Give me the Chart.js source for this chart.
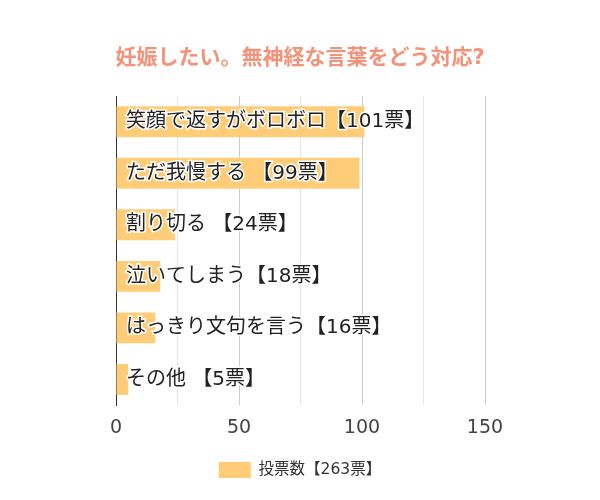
<!DOCTYPE html>
<html><head><meta charset="utf-8">
<script src="https://cdn.jsdelivr.net/npm/chart.js@4"></script>
<style>html,body{margin:0;padding:0;background:#fff}#wrap{width:600px;height:500px}</style>
</head><body><div id="wrap"><canvas id="c"></canvas></div>
<script>
const titleText = '妊娠したい。無神経な言葉をどう対応?';
const categories = ['笑顔で返すがボロボロ【101票】','ただ我慢する 【99票】','割り切る 【24票】','泣いてしまう【18票】','はっきり文句を言う【16票】','その他 【5票】'];
const votes = [101, 99, 24, 18, 16, 5];
const seriesLabel = '投票数【263票】';
const xTicks = [0, 50, 100, 150];

const FONT = "'DejaVu Sans','Noto Sans CJK JP',sans-serif";
new Chart(document.getElementById('c'), {
  type: 'bar',
  data: { labels: categories, datasets: [{ label: seriesLabel, data: votes, backgroundColor: '#FFCC77', borderWidth: 0, barPercentage: 0.6, categoryPercentage: 1 }] },
  options: {
    indexAxis: 'y', responsive: true, maintainAspectRatio: false, animation: false,
    layout: { padding: { left: 115, right: 115, top: 30, bottom: 12 } },
    plugins: {
      title: { display: true, text: titleText, color: '#F4927A', font: { family: FONT, size: 21, weight: 'bold' }, padding: { top: 16, bottom: 24.8 } },
      legend: { position: 'bottom', labels: { color: '#333', font: { family: FONT, size: 15.5 }, boxWidth: 32, boxHeight: 16, padding: 12 } },
      tooltip: { enabled: false }
    },
    scales: {
      x: { min: 0, max: 150,
        ticks: { stepSize: 25, color: '#444', font: { family: FONT, size: 19 }, padding: 11, maxRotation: 0, autoSkip: false,
          callback: v => xTicks.includes(v) ? String(v) : '' },
        grid: { color: c => (c.tick && c.tick.value % 50 === 0) ? '#cccccc' : '#e6e6e6', drawTicks: false },
        border: { display: false } },
      y: {
        afterFit: s => { s.width = 1; },
        ticks: { mirror: true, z: 1, padding: 10, color: '#222', font: { family: FONT, size: 20 }, textStrokeColor: '#fff', textStrokeWidth: 3 },
        grid: { display: false, drawTicks: false },
        border: { display: true, color: '#333', width: 1 } }
    }
  }
});
</script></body></html>
